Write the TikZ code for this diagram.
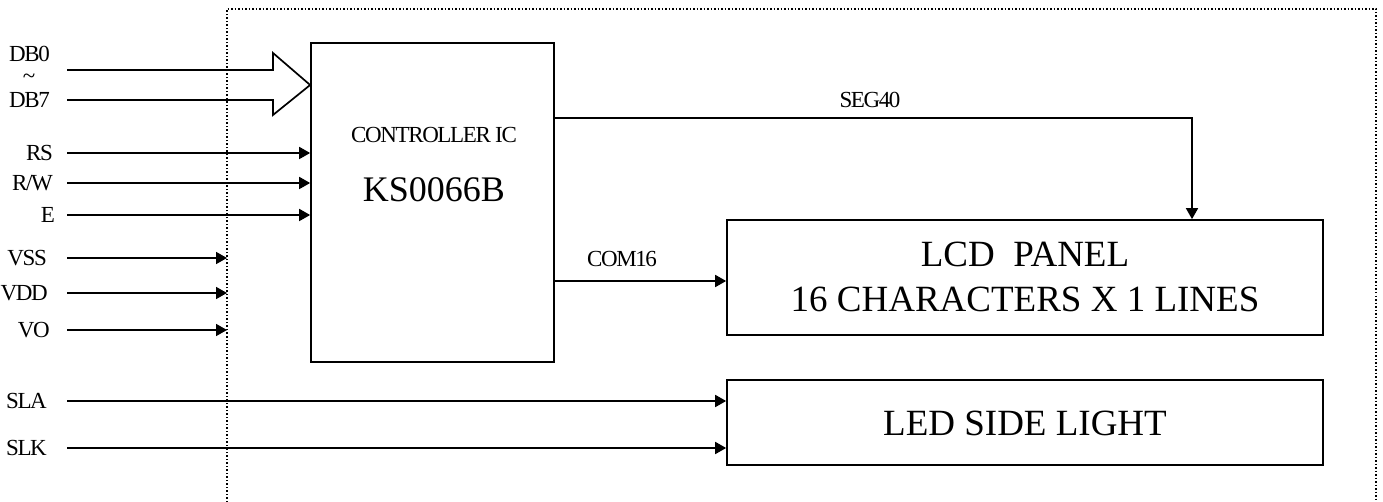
\documentclass[tikz,border=0pt]{standalone}
\usepackage{fontspec}
\setmainfont{Liberation Serif}
\newfontfamily\lblfont[LetterSpace=-6]{Liberation Serif}
\usetikzlibrary{arrows.meta}
\begin{document}
\begin{tikzpicture}[x=1pt,y=-1pt,
  sig/.style={line width=1.7pt,-{Triangle[length=11pt,width=12pt]}},
  blk/.style={draw,line width=1.7pt,rectangle,inner sep=0pt},
  lbl/.style={inner sep=0pt,anchor=base east,font=\lblfont\fontsize{23}{25}\selectfont},
  clbl/.style={inner sep=0pt,anchor=base,font=\lblfont\fontsize{23}{25}\selectfont},
  big/.style={inner sep=0pt,anchor=base,font=\fontsize{37}{40}\selectfont}]
\useasboundingbox (0,0) rectangle (1383,502);
\fill[white] (0,0) rectangle (1383,502);
% dotted boundary
\coordinate (bnd) at (227,9);
\draw[dotted,line width=1.5pt] (227,502) -- (bnd) -- (1376,9) -- (1376,502);
% blocks
\node[blk,minimum width=243pt,minimum height=319pt] (ctrl) at (432.5,202.5) {};
\node[blk,minimum width=596pt,minimum height=115pt] (lcd) at (1025,277.5) {};
\node[blk,minimum width=596pt,minimum height=85pt] (led) at (1025,422.5) {};
% block texts
\node[clbl] (ctrlt) at (434,143) {CONTROLLER IC};
\node[big,font=\fontsize{36}{40}\selectfont] (kst) at (434,202) {KS0066B};
\node[big] (lcdt1) at (1025,267) {LCD~~PANEL};
\node[big] (lcdt2) at (1025,312) {16 CHARACTERS X 1 LINES};
\node[big] (ledt) at (1025,435) {LED SIDE LIGHT};
% input labels
\node[lbl] (db0) at (50,62) {DB0};
\node[inner sep=0pt,anchor=base,font=\fontsize{23}{25}\selectfont] (tl) at (29,84) {\textasciitilde};
\node[lbl] (db7) at (50,108) {DB7};
\node[lbl] (rs) at (53,160.5) {RS};
\node[lbl] (rw) at (53,190.5) {R/W};
\node[lbl] (e) at (55,222.5) {E};
\node[lbl] (vss) at (47,265.5) {VSS};
\node[lbl] (vdd) at (48,300.5) {VDD};
\node[lbl] (vo) at (50,337.5) {VO};
\node[lbl] (sla) at (47,408.5) {SLA};
\node[lbl] (slk) at (47,455.5) {SLK};
% coordinates for line starts
\coordinate (x0) at (67,0);
\coordinate (busA) at (67,70);
\coordinate (busB) at (67,100);
% bus hollow arrow
\draw[line width=1.7pt,line join=miter] (busA) -- (273,70) -- (273,53) -- (ctrl.west |- 0,85) -- (273,115) -- (273,100) -- (busB);
% control signals
\draw[sig] (x0 |- 0,153) -- (ctrl.west |- 0,153);
\draw[sig] (x0 |- 0,183) -- (ctrl.west |- 0,183);
\draw[sig] (x0 |- 0,215) -- (ctrl.west |- 0,215);
% power
\draw[sig] (x0 |- 0,258) -- (bnd |- 0,258);
\draw[sig] (x0 |- 0,293) -- (bnd |- 0,293);
\draw[sig] (x0 |- 0,330) -- (bnd |- 0,330);
% side light
\draw[sig] (x0 |- 0,401) -- (led.west |- 0,401);
\draw[sig] (x0 |- 0,448) -- (led.west |- 0,448);
% outputs
\coordinate (segc) at (1192,118);
\draw[sig] (ctrl.east |- segc) -- (segc) -- (segc |- lcd.north);
\node[clbl] (seg) at (870,108) {SEG40};
\draw[sig] (ctrl.east |- 0,281) -- (lcd.west |- 0,281);
\node[clbl] (com) at (622,267) {COM16};
\end{tikzpicture}
\end{document}
